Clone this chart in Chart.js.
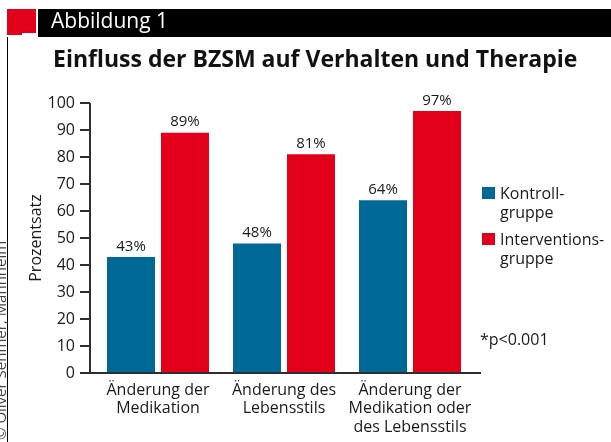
<!DOCTYPE html>
<html lang="de">
<head>
<meta charset="utf-8">
<title>Einfluss der BZSM auf Verhalten und Therapie</title>
<script src="https://cdn.jsdelivr.net/npm/chart.js@4.4.0/dist/chart.umd.min.js"></script>
<style>
    html, body {
        margin: 0;
        padding: 0;
        background: #ffffff;
    }
    body {
        position: relative;
        width: 611px;
        height: 442px;
        overflow: hidden;
        font-family: "Open Sans", "Noto Sans", sans-serif;
    }
    #chart-wrap {
        position: absolute;
        left: 0;
        top: 0;
        width: 611px;
        height: 442px;
    }
    .header-red {
        position: absolute;
        left: 7px;
        top: 9px;
        width: 29px;
        height: 26px;
        background: #e2001a;
    }
    .header-notch {
        position: absolute;
        left: 22px;
        top: 33px;
        width: 14px;
        height: 2px;
        background: #ffffff;
    }
    .header-bar {
        position: absolute;
        left: 38px;
        top: 9px;
        right: 0;
        height: 28px;
        background: #000000;
    }
    .header-text {
        position: absolute;
        left: 51px;
        top: 10px;
        font-size: 21px;
        line-height: 21px;
        color: #ffffff;
        white-space: nowrap;
    }
    .left-rule {
        position: absolute;
        left: 7px;
        top: 37px;
        width: 1px;
        height: 405px;
        background: #000000;
    }
    .credit {
        position: absolute;
        left: -7px;
        top: 440px;
        transform-origin: 0 0;
        transform: rotate(-90deg);
        font-size: 15px;
        line-height: 15px;
        color: #444444;
        white-space: nowrap;
    }
    .title {
        position: absolute;
        left: 53px;
        top: 47px;
        font-size: 23px;
        line-height: 23px;
        font-weight: 700;
        color: #111111;
        white-space: nowrap;
    }
</style>
</head>
<body>
<div id="chart-wrap"><canvas id="chart" width="611" height="442"></canvas></div>
<div class="header-red"></div>
<div class="header-notch"></div>
<div class="header-bar"></div>
<div class="header-text">Abbildung 1</div>
<div class="left-rule"></div>
<div class="credit">© Oliver Sehmer, Mannheim</div>
<div class="title" id="title">Einfluss der BZSM auf Verhalten und Therapie</div>

<script>
// Daten
const categories = [
    ['Änderung der', 'Medikation'],
    ['Änderung des', 'Lebensstils'],
    ['Änderung der', 'Medikation oder', 'des Lebensstils']
];
const kontrollgruppe = [43, 48, 64];
const interventionsgruppe = [89, 81, 97];
const seriesNames = [['Kontroll-', 'gruppe'], ['Interventions-', 'gruppe']];
const seriesColors = ['#006896', '#e2001a'];
const yTicks = [0, 10, 20, 30, 40, 50, 60, 70, 80, 90, 100];
const footnote = '*p<0.001';

const textColor = '#1a1a1a';
const axisColor = '#2e2e2e';
const fontFamily = '"Open Sans", "Noto Sans", sans-serif';

// Achsenlinien mit Teilstrichen (links abgesetzt wie im Original)
const axisLines = {
    id: 'axisLines',
    afterDatasetsDraw(chart) {
        const {ctx, chartArea, scales: {y}} = chart;
        const x0 = chartArea.left - 5;
        const yBottom = y.getPixelForValue(0);
        const yTop = y.getPixelForValue(100);
        ctx.save();
        ctx.strokeStyle = axisColor;
        ctx.lineWidth = 2;
        ctx.beginPath();
        ctx.moveTo(x0, yTop);
        ctx.lineTo(x0, yBottom);
        yTicks.forEach(t => {
            const py = Math.round(y.getPixelForValue(t));
            ctx.moveTo(x0 - 10, py);
            ctx.lineTo(x0, py);
        });
        ctx.moveTo(x0 - 10, yBottom);
        ctx.lineTo(chartArea.right + 8, yBottom);
        ctx.stroke();
        ctx.restore();
    }
};

// Prozentwerte über den Balken
const valueLabels = {
    id: 'valueLabels',
    afterDatasetsDraw(chart) {
        const {ctx} = chart;
        ctx.save();
        ctx.fillStyle = textColor;
        ctx.font = '15px ' + fontFamily;
        ctx.textAlign = 'center';
        ctx.textBaseline = 'bottom';
        chart.data.datasets.forEach((ds, i) => {
            chart.getDatasetMeta(i).data.forEach((bar, j) => {
                ctx.fillText(ds.data[j] + '%', bar.x, bar.y - 3);
            });
        });
        ctx.restore();
    }
};

// Legende rechts mit zweizeiligen Einträgen + Fußnote
const sideLegend = {
    id: 'sideLegend',
    afterDraw(chart) {
        const {ctx, chartArea} = chart;
        const x = chartArea.right + 9;
        let y = chartArea.top + 84;
        ctx.save();
        ctx.font = '16px ' + fontFamily;
        ctx.textBaseline = 'middle';
        ctx.textAlign = 'left';
        chart.data.datasets.forEach((ds, i) => {
            ctx.fillStyle = ds.backgroundColor;
            ctx.fillRect(x, y, 13, 12);
            ctx.fillStyle = textColor;
            seriesNames[i].forEach((line, k) => {
                ctx.fillText(line, x + 18, y + 7 + k * 19.5);
            });
            y += 46;
        });
        ctx.fillText(footnote, x - 2, chartArea.top + 237);
        ctx.restore();
    }
};

const ctx = document.getElementById('chart').getContext('2d');
new Chart(ctx, {
    type: 'bar',
    data: {
        labels: categories,
        datasets: [{
            label: seriesNames[0].join(''),
            data: kontrollgruppe,
            backgroundColor: seriesColors[0]
        }, {
            label: seriesNames[1].join(''),
            data: interventionsgruppe,
            backgroundColor: seriesColors[1]
        }]
    },
    options: {
        responsive: false,
        animation: false,
        categoryPercentage: 0.857,
        barPercentage: 0.889,
        layout: {
            padding: {top: 103, right: 138, bottom: 0, left: 0}
        },
        plugins: {
            legend: {display: false},
            tooltip: {enabled: false}
        },
        scales: {
            x: {
                grid: {display: false, drawTicks: false},
                border: {display: false},
                ticks: {
                    color: textColor,
                    padding: 8,
                    maxRotation: 0,
                    font: {family: fontFamily, size: 16, lineHeight: 1.15}
                },
                afterFit: scale => { scale.height = 69; }
            },
            y: {
                min: 0,
                max: 100,
                grid: {display: false, drawTicks: false},
                border: {display: false},
                ticks: {
                    stepSize: 10,
                    color: textColor,
                    padding: 20,
                    font: {family: fontFamily, size: 16}
                },
                title: {
                    display: true,
                    text: 'Prozentsatz',
                    color: textColor,
                    padding: {top: 27, bottom: 0},
                    font: {family: fontFamily, size: 16}
                },
                afterFit: scale => { scale.width = 95; }
            }
        }
    },
    plugins: [axisLines, valueLabels, sideLegend]
});
</script>
</body>
</html>
